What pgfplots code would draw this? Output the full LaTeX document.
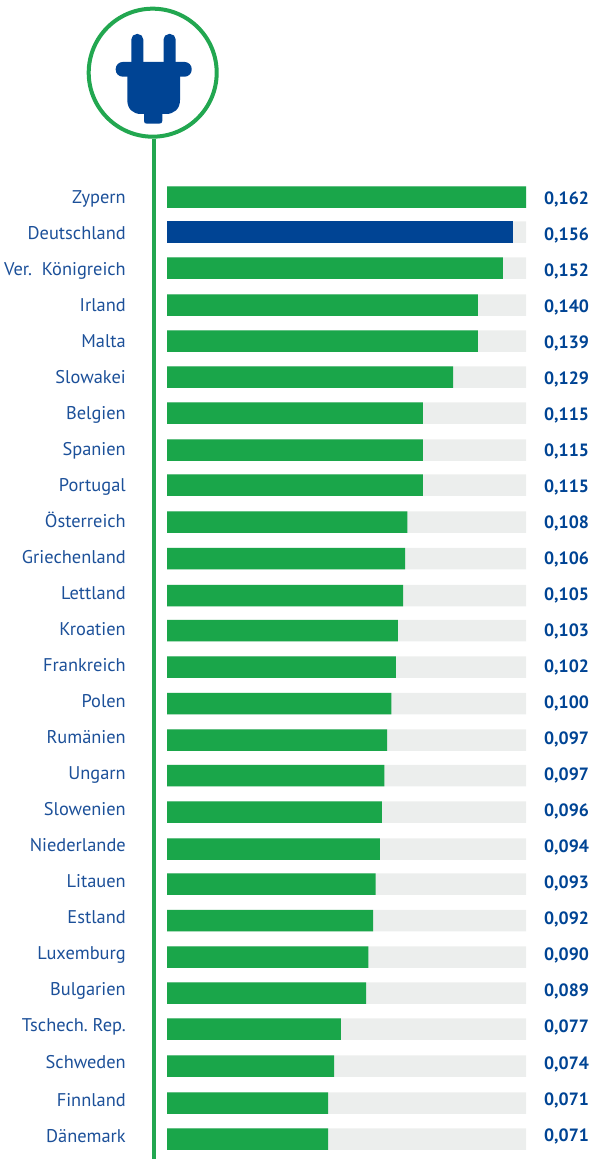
\documentclass[border=0pt]{standalone}
\usepackage{pgfplots}
\usepackage{pgfplotstable}
\usepackage{fontspec}
\setmainfont{PT Sans}
\pgfplotsset{compat=1.18}
\definecolor{gr}{HTML}{1AA64A}
\definecolor{ln}{HTML}{22A750}
\definecolor{bl}{HTML}{004494}
\definecolor{tx}{HTML}{1C5099}
\definecolor{bg}{HTML}{ECEEED}
% y = pixel row of the bar centre
\pgfplotstableread{
val y
0.1620 197
0.1561 232
0.1516 268
0.1403 305
0.1403 341
0.1291 377
0.1155 413
0.1155 450
0.1155 485
0.1085 522
0.1074 558.5
0.1065 595.5
0.1042 630.5
0.1033 667
0.1013 703.5
0.0993 740
0.0981 775.5
0.0970 812
0.0961 849
0.0941 884
0.0930 920.5
0.0909 957
0.0898 993
0.0785 1029
0.0754 1066
0.0727 1103
0.0727 1139
}\bars
\pgfplotstableread{
xpos y lab
0.1701 200 0,162
0.1701 236 0,156
0.1701 272 0,152
0.1701 308 0,140
0.1701 344 0,139
0.1701 380 0,129
0.1701 416 0,115
0.1701 452 0,115
0.1701 488 0,115
0.1701 524 0,108
0.1701 560 0,106
0.1701 596 0,105
0.1701 632 0,103
0.1701 668 0,102
0.1701 704 0,100
0.1701 740 0,097
0.1701 776 0,097
0.1701 812 0,096
0.1701 848 0,094
0.1701 884 0,093
0.1701 920 0,092
0.1701 956 0,090
0.1701 992 0,089
0.1701 1028 0,077
0.1701 1065 0,074
0.1701 1101 0,071
0.1701 1137 0,071
}\labs
\begin{document}
\begin{tikzpicture}[x=1pt,y=1pt]
\path[use as bounding box] (0,0) rectangle (590,1159);
\begin{axis}[
  at={(167pt,0pt)},anchor=south west,
  scale only axis,width=359pt,height=1159pt,
  xmin=0,xmax=0.162,ymin=0,ymax=1159,y dir=reverse,
  axis x line=none,axis y line=left,y axis line style={draw=none},
  clip=false,
  xbar,bar shift=0pt,bar width=21.5pt,
  major tick length=0pt,
  ytick={199,235,271,307,343,379,415,451,487,523,559,595,631,667,703,739,775,811,847,883,919,955,991,1027,1064,1102,1138},
  yticklabels={Zypern,Deutschland,Ver.\ \ Königreich,Irland,Malta,Slowakei,Belgien,Spanien,Portugal,Österreich,Griechenland,Lettland,Kroatien,Frankreich,Polen,Rumänien,Ungarn,Slowenien,Niederlande,Litauen,Estland,Luxemburg,Bulgarien,Tschech.\ Rep.,Schweden,Finnland,Dänemark},
  y tick label style={inner sep=0pt,xshift=-41pt,text=tx,font=\fontsize{18.4}{20}\selectfont,text height=13pt,text depth=4pt},
]
\addplot[draw=none,fill=bg] table[x expr=0.162,y=y] {\bars};
\addplot[draw=none,fill=gr] table[x=val,y=y] {\bars};
\addplot[draw=none,fill=bl] coordinates {(0.1561,232)};
\addplot[draw=none,mark=none,xbar=false,bar width=0pt,
  nodes near coords,point meta=explicit symbolic,
  nodes near coords style={anchor=west,inner sep=0pt,text=bl,font=\fontsize{17.8}{20}\selectfont\bfseries,text height=13pt,text depth=4pt}]
  table[x=xpos,y=y,meta=lab] {\labs};
\end{axis}
\begin{scope}[shift={(0,1159)},x=1pt,y=-1pt]
\draw[ln,line width=4pt] (154,139) -- (154,1159);
\draw[ln,line width=4pt,fill=white] (152.7,72.7) circle[radius=64];
\fill[bl,rounded corners=5.5pt] (131.3,72) -- (131.3,34) -- (143.3,34) -- (143.3,72) -- cycle;
\fill[bl,rounded corners=5.5pt] (163.5,72) -- (163.5,34) -- (175.7,34) -- (175.7,72) -- cycle;
\fill[bl,rounded corners=7pt] (115.7,62) rectangle (191.7,76.7);
\fill[bl] (127.3,70) -- (180,70) -- (180,100) .. controls (180,109) and (174,114) .. (166,114) -- (162.3,114) -- (162.3,121) .. controls (162.3,123) and (161,123.7) .. (159,123.7) -- (147,123.7) .. controls (145,123.7) and (144,123) .. (144,121) -- (144,114) -- (141,114) .. controls (133,114) and (127.3,109) .. (127.3,100) -- cycle;
\end{scope}
\end{tikzpicture}
\end{document}
